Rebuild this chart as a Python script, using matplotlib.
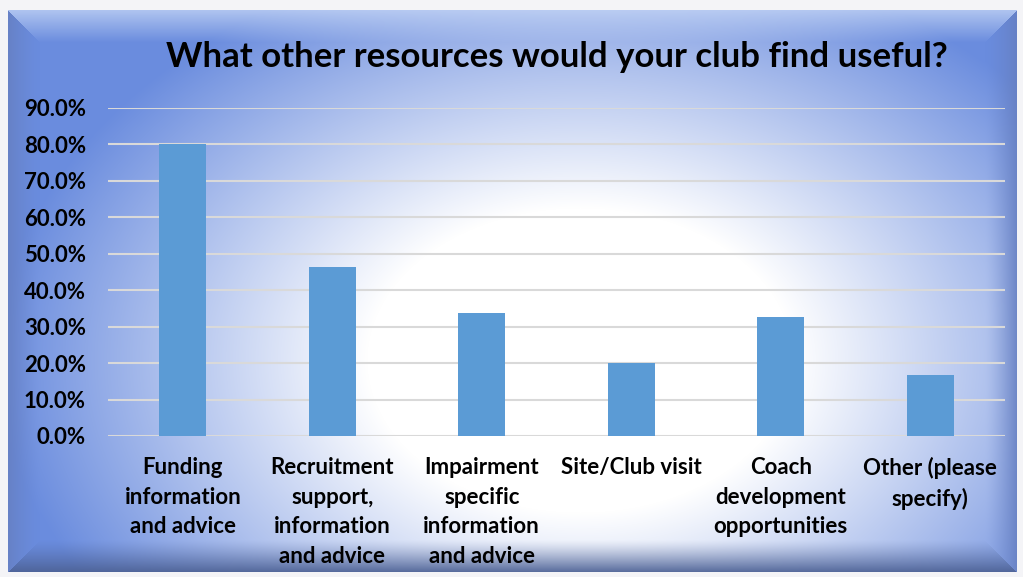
import numpy as np
import matplotlib
matplotlib.use("Agg")
import matplotlib.pyplot as plt
from matplotlib.ticker import FuncFormatter

categories = [
    "Funding\ninformation\nand advice",
    "Recruitment\nsupport,\ninformation\nand advice",
    "Impairment\nspecific\ninformation\nand advice",
    "Site/Club visit",
    "Coach\ndevelopment\nopportunities",
    "Other (please\nspecify)",
]
values = [80.0, 46.4, 33.8, 20.0, 32.6, 16.7]
yticks = [0, 10, 20, 30, 40, 50, 60, 70, 80, 90]
title = "What other resources would your club find useful?"

W, H = 1023, 577
FONT = ["Lato", "DejaVu Sans"]


def make_background():
    yy, xx = np.mgrid[0:H, 0:W].astype(float)
    img = np.ones((H, W, 3)) * np.array([0.96, 0.96, 0.97])

    # radial fill, white centre to blue edges
    d = np.sqrt(((xx - 580) / 560.0) ** 2 + ((yy - 360) / 400.0) ** 2)
    t = np.clip((d - 0.38) / 0.66, 0, 1)
    blue = np.array([106, 140, 222]) / 255.0
    fill = (1 - t)[..., None] * np.ones(3) + t[..., None] * blue

    x0, x1, y0, y1 = 8, 1016, 10, 571
    inside = (xx >= x0) & (xx <= x1) & (yy >= y0) & (yy <= y1)

    # bevel around the edge
    b = 32.0
    dl, dr, dt, db = xx - x0, x1 - xx, yy - y0, y1 - yy
    dmin = np.minimum(np.minimum(dl, dr), np.minimum(dt, db))
    s = np.clip(1 - dmin / b, 0, 1)
    shade = fill.copy()
    top = (dt == dmin) & (s > 0)
    left = (dl == dmin) & (s > 0) & ~top
    right = (dr == dmin) & (s > 0) & ~top
    bot = (db == dmin) & (s > 0) & ~left & ~right & ~top
    light = np.array([0.80, 0.86, 0.97])
    dark = np.array([0.30, 0.38, 0.58])
    mid = np.array([0.40, 0.50, 0.76])
    k = s[..., None]
    shade[top] = (fill * (1 - 0.7 * k) + light * 0.7 * k)[top]
    shade[left] = (fill * (1 - 0.85 * k ** 1.5) + mid * 0.85 * k ** 1.5)[left]
    shade[right] = (fill * (1 - 0.85 * k ** 1.5) + mid * 0.85 * k ** 1.5)[right]
    shade[bot] = (fill * (1 - 0.9 * k ** 1.3) + dark * 0.9 * k ** 1.3)[bot]
    img[inside] = shade[inside]
    return img


fig = plt.figure(figsize=(W / 100, H / 100), dpi=100)
bg = fig.add_axes([0, 0, 1, 1])
bg.imshow(make_background(), aspect="auto", extent=(0, W, H, 0), interpolation="bilinear")
bg.set_axis_off()

ax = fig.add_axes([108 / W, 1 - 436 / H, (1005 - 108) / W, (436 - 108) / H])
ax.patch.set_alpha(0)
x = np.arange(len(categories))
ax.bar(x, values, width=0.315, color="#5B9BD5", zorder=3)
ax.set_xlim(-0.5, len(categories) - 0.5)
ax.set_ylim(0, 90)
ax.set_yticks(yticks)
ax.yaxis.set_major_formatter(FuncFormatter(lambda v, p: "%.1f%%" % v))
ax.grid(axis="y", color="#D9D9D9", linewidth=1.5, zorder=0)
ax.set_axisbelow(True)
for sp in ax.spines.values():
    sp.set_visible(False)
ax.tick_params(axis="y", length=0, pad=16, labelsize=16)
ax.tick_params(axis="x", length=0)
ax.set_xticks(x)
ax.set_xticklabels([])
for lab in ax.get_yticklabels():
    lab.set_fontweight("bold")
    lab.set_family(FONT)

for xi, c in zip(x, categories):
    ax.text(xi, -5.7, c, ha="center", va="top", fontsize=16, fontweight="bold",
            family=FONT, linespacing=1.52, transform=ax.transData, clip_on=False)

fig.text(557 / W, 1 - 57 / H, title, ha="center", va="center", fontsize=25,
         fontweight="bold", family=FONT)

fig.savefig("out.png", dpi=100)
